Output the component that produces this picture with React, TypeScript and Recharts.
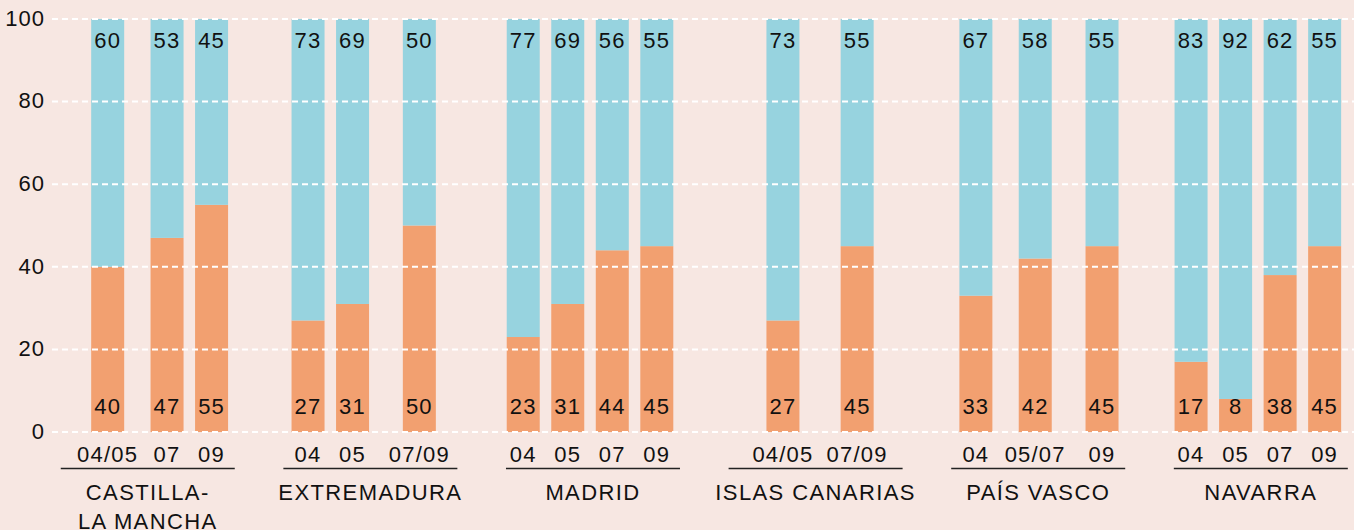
import { BarChart, Bar, XAxis, YAxis, CartesianGrid, LabelList } from "recharts";

// regiones y periodos
const GROUP_NAMES = [["CASTILLA-", "LA MANCHA"], ["EXTREMADURA"], ["MADRID"], ["ISLAS CANARIAS"], ["PAÍS VASCO"], ["NAVARRA"]];
const PERIODS = [
    ["04/05", "07", "09"],
    ["04", "05", "07/09"],
    ["04", "05", "07", "09"],
    ["04/05", "07/09"],
    ["04", "05/07", "09"],
    ["04", "05", "07", "09"],
];
// parte naranja (abajo) y parte azul (arriba), en %
const ORANGE_VALUES = [[40, 47, 55], [27, 31, 50], [23, 31, 44, 45], [27, 45], [33, 42, 45], [17, 8, 38, 45]];
const BLUE_VALUES = [[60, 53, 45], [73, 69, 50], [77, 69, 56, 55], [73, 55], [67, 58, 55], [83, 92, 62, 55]];
const Y_TICKS = [0, 20, 40, 60, 80, 100];

// layout: the x axis is cut into narrow slots so the bars can sit unevenly
const N_SLOTS = 176;
const BAR_SLOTS = [[7, 15, 21], [34, 40, 49], [63, 69, 75, 81], [98, 108], [124, 132, 141], [153, 159, 165, 171]];
const GROUP_SLOTS = [12, 42, 72, 102, 132, 162];

const BG = "#f7e7e2";
const ORANGE = "#f2a070";
const BLUE = "#97d3df";
const FONT = "'Liberation Sans', Arial, sans-serif";
const BAR_W = 33;

type Row = { slot: number; period: string; orange: number | null; blue: number | null; group: number };

const rows: Row[] = [];
for (let k = 0; k < N_SLOTS; k++) rows.push({ slot: k, period: "", orange: null, blue: null, group: -1 });
BAR_SLOTS.forEach((slots, g) => {
    slots.forEach((k, i) => {
        rows[k].period = PERIODS[g][i];
        rows[k].orange = ORANGE_VALUES[g][i];
        rows[k].blue = BLUE_VALUES[g][i];
    });
    rows[GROUP_SLOTS[g]].group = g;
});

const WideBar = (props: any) => {
    const { x, y, width, height, fill } = props;
    if (!height || height <= 0) return null;
    const cx = x + width / 2;
    return <rect x={cx - BAR_W / 2} y={y} width={BAR_W} height={height} fill={fill} />;
};

const makeLabel = (where: "top" | "bottom") => (props: any) => {
    const { value } = props;
    if (value == null) return null;
    const vb = props.viewBox ?? props;
    const cx = vb.x + vb.width / 2;
    const cy = where === "top" ? vb.y + 21.5 : vb.y + vb.height - 25.5;
    return (
        <text x={cx} y={cy} textAnchor="middle" dominantBaseline="central" fontSize={22}
              fontFamily={FONT} letterSpacing={1.2} fill="#111">
            {value}
        </text>
    );
};

const renderTick = (props: any) => {
    const { x, y, payload } = props;
    const row = rows[payload.index];
    if (!row) return <g />;
    const gx = x + 3;
    return (
        <g fontFamily={FONT} fontSize={22} fill="#111">
            {row.period && (
                <text x={x} y={y + 30} textAnchor="middle" letterSpacing={1.2}>{row.period}</text>
            )}
            {row.group >= 0 && (
                <g>
                    <line x1={gx - 87} x2={gx + 87} y1={y + 36.5} y2={y + 36.5} stroke="#222" strokeWidth={1.4} />
                    {GROUP_NAMES[row.group].map((line, i) => (
                        <text key={i} x={gx} y={y + 68 + i * 28.5} textAnchor="middle" letterSpacing={1.4}>{line}</text>
                    ))}
                </g>
            )}
        </g>
    );
};

export default function App() {
    return (
        <div style={{ position: "absolute", left: 0, top: 0, width: 1354, height: 530, overflow: "hidden", background: BG }}>
            <BarChart width={1358} height={530} data={rows} margin={{ top: 19, right: 0, bottom: 0, left: 0 }}>
                <XAxis dataKey="slot" type="category" interval={0} axisLine={false} tickLine={false}
                       tickSize={0} tickMargin={0} height={98} tick={renderTick} />
                <YAxis domain={[0, 100]} ticks={Y_TICKS} width={52} axisLine={false} tickLine={false}
                       tickSize={0} tickMargin={7}
                       tick={{ fontSize: 22, fill: "#111", fontFamily: FONT, letterSpacing: 1, dy: -1 }} />
                <Bar dataKey="orange" stackId="a" fill={ORANGE} shape={WideBar} isAnimationActive={false}>
                    <LabelList dataKey="orange" content={makeLabel("bottom")} />
                </Bar>
                <Bar dataKey="blue" stackId="a" fill={BLUE} shape={WideBar} isAnimationActive={false}>
                    <LabelList dataKey="blue" content={makeLabel("top")} />
                </Bar>
                <CartesianGrid vertical={false} stroke="#ffffff" strokeWidth={2} strokeDasharray="6 4"
                               zIndex={600} />
            </BarChart>
        </div>
    );
}
